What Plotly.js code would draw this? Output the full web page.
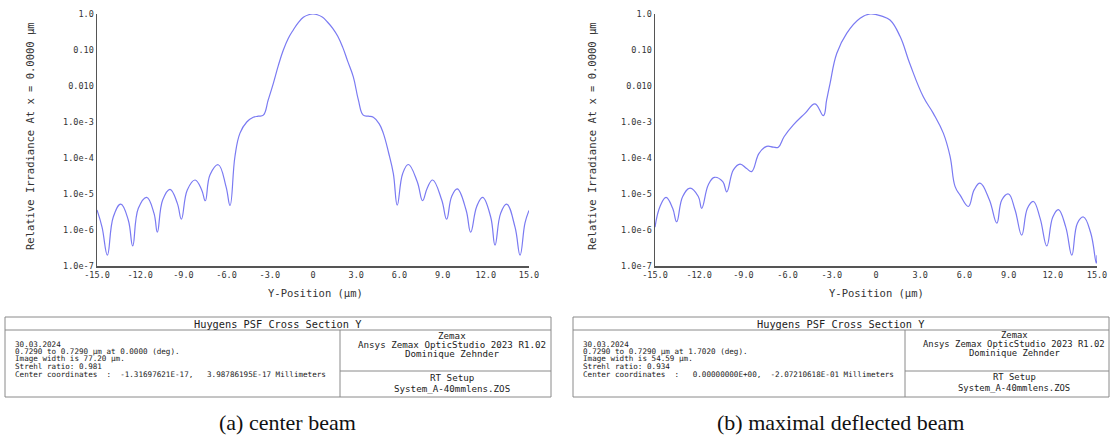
<!DOCTYPE html>
<html>
<head>
<meta charset="utf-8">
<script src="https://cdn.plot.ly/plotly-3.0.1.min.js"></script>
<style>html,body{margin:0;padding:0;background:#fff;}#chart{width:1110px;height:445px;}</style>
</head>
<body>
<div id="chart"></div>
<script>
// ---- Data ----
const yPosCenter = [-15, -14.65, -14.28, -13.87, -13.35, -12.83, -12.52, -12.13, -11.55, -11.04, -10.81, -10.44, -9.93, -9.42, -9.14, -8.73, -8.19, -7.73, -7.48, -7.15, -6.58, -6.04, -5.76, -5.42, -5.07, -4.6, -4.15, -3.8, -3.45, -3.11, -2.76, -2.4, -2.06, -1.72, -1.37, -1.02, -0.67, -0.3, 0, 0.3, 0.67, 1.0, 1.37, 1.72, 2.06, 2.4, 2.8, 3.15, 3.49, 3.85, 4.19, 4.6, 4.88, 5.25, 5.58, 5.85, 6.23, 6.62, 7.24, 7.61, 7.93, 8.31, 8.94, 9.28, 9.63, 10.02, 10.63, 10.95, 11.37, 11.78, 12.34, 12.64, 13.03, 13.45, 14.03, 14.38, 14.72, 15];
const irrCenter = [3.6e-6, 1.2e-6, 2.0e-7, 2.3e-6, 5.2e-6, 1.9e-6, 3.6e-7, 4.0e-6, 8.1e-6, 2.9e-6, 8.7e-7, 6.8e-6, 1.35e-5, 5.5e-6, 2.0e-6, 1.3e-5, 2.45e-5, 1.3e-5, 6.5e-6, 3.4e-5, 6.5e-5, 1.6e-5, 4.8e-6, 1.1e-4, 4.9e-4, 1.0e-3, 1.35e-3, 1.45e-3, 1.55e-3, 4.1e-3, 1.17e-2, 3.8e-2, 0.10, 0.21, 0.36, 0.575, 0.81, 0.955, 1.0, 0.955, 0.81, 0.60, 0.40, 0.24, 0.12, 0.05, 1.8e-2, 4.1e-3, 1.55e-3, 1.45e-3, 1.35e-3, 8.9e-4, 4.9e-4, 1.4e-4, 3.7e-5, 4.9e-6, 3.7e-5, 6.6e-5, 2.2e-5, 6.5e-6, 1.45e-5, 2.45e-5, 6.8e-6, 2.0e-6, 8.5e-6, 1.38e-5, 3.6e-6, 8.7e-7, 4.5e-6, 8.1e-6, 2.3e-6, 3.8e-7, 2.9e-6, 5.2e-6, 1.2e-6, 2.0e-7, 1.55e-6, 3.5e-6];

const yPosDeflected = [-15, -14.66, -14.25, -13.8, -13.53, -13.12, -12.62, -12.06, -11.83, -11.38, -10.97, -10.4, -10.13, -9.68, -9.23, -8.78, -8.44, -7.94, -7.42, -6.97, -6.63, -6.24, -5.61, -4.82, -4.14, -3.57, -3.35, -3.12, -2.66, -1.99, -1.08, -0.4, 0.39, 0.95, 1.63, 2.31, 3.21, 3.89, 4.57, 5.03, 5.37, 5.71, 6.27, 6.66, 7.06, 7.7, 8.2, 8.54, 8.99, 9.44, 9.89, 10.28, 10.68, 11.14, 11.59, 12.0, 12.38, 12.88, 13.29, 13.67, 14.08, 14.58, 14.95, 15];
const irrDeflected = [1.2e-6, 4.5e-6, 8.1e-6, 4.0e-6, 1.7e-6, 8.5e-6, 1.45e-5, 8.5e-6, 4.0e-6, 1.8e-5, 2.9e-5, 2.2e-5, 1.15e-5, 4.7e-5, 6.8e-5, 5.1e-5, 4.2e-5, 1.35e-4, 2.1e-4, 2.0e-4, 2.0e-4, 3.9e-4, 8.3e-4, 1.74e-3, 3.2e-3, 1.5e-3, 4.1e-3, 1.17e-2, 8.1e-2, 0.29, 0.76, 1.0, 0.87, 0.68, 0.24, 0.04, 5.0e-3, 1.74e-3, 4.9e-4, 1.1e-4, 1.6e-5, 9.3e-6, 4.5e-6, 1.3e-5, 2.0e-5, 6.8e-6, 1.55e-6, 6.8e-6, 1.0e-5, 3.6e-6, 7.2e-7, 4.0e-6, 6.2e-6, 2.1e-6, 3.6e-7, 2.3e-6, 3.7e-6, 1.2e-6, 2.0e-7, 1.55e-6, 2.3e-6, 8.1e-7, 1.2e-7, 2.0e-7];

const xTickVals = [-15, -12, -9, -6, -3, 0, 3, 6, 9, 12, 15];
const xTickText = ['-15.0', '-12.0', '-9.0', '-6.0', '-3.0', '0', '3.0', '6.0', '9.0', '12.0', '15.0'];
const yTickVals = [1e-7, 1e-6, 1e-5, 1e-4, 1e-3, 0.01, 0.1, 1];
const yTickText = ['1.0e-7', '1.0e-6', '1.0e-5', '1.0e-4', '1.0e-3', '0.010', '0.10', '1.0'];

const xTitle = 'Y-Position (µm)';
const yTitle = 'Relative Irradiance At x = 0.0000 µm';
const boxTitle = 'Huygens PSF Cross Section Y';
const infoLinesA = ['30.03.2024', '0.7290 to 0.7290 µm at 0.0000 (deg).', 'Image width is 77.20 µm.', 'Strehl ratio: 0.981', 'Center coordinates  :  -1.31697621E-17,   3.98786195E-17 Millimeters'];
const infoLinesB = ['30.03.2024', '0.7290 to 0.7290 µm at 1.7020 (deg).', 'Image width is 54.59 µm.', 'Strehl ratio: 0.934', 'Center coordinates  :   0.00000000E+00,  -2.07210618E-01 Millimeters'];
const companyLines = ['Zemax', 'Ansys Zemax OpticStudio 2023 R1.02', 'Dominique Zehnder'];
const setupLines = ['RT Setup', 'System_A-40mmlens.ZOS'];
const captions = ['(a) center beam', '(b) maximal deflected beam'];

// ---- Layout helpers (pixel -> paper) ----
const W = 1110, H = 445;
const px = v => v / W;
const py = v => 1 - v / H;

const lineStyle = {color: '#7a7af2', width: 1.2, shape: 'spline', smoothing: 1.2};
const traces = [
  {x: yPosCenter, y: irrCenter, type: 'scatter', mode: 'lines', line: lineStyle, xaxis: 'x', yaxis: 'y', hoverinfo: 'x+y', name: captions[0]},
  {x: yPosDeflected, y: irrDeflected, type: 'scatter', mode: 'lines', line: lineStyle, xaxis: 'x2', yaxis: 'y2', hoverinfo: 'x+y', name: captions[1]}
];

const axFont = {family: 'DejaVu Sans Mono, monospace', size: 8.5, color: '#333'};
const titleFont = {family: 'DejaVu Sans Mono, monospace', size: 10.5, color: '#333'};
function xAx(domain, anchor) {
  return {domain: domain, anchor: anchor, range: [-15, 15], tickvals: xTickVals, ticktext: xTickText,
    showline: true, linecolor: '#555', linewidth: 1.5, showgrid: false, zeroline: false, ticks: '',
    tickfont: axFont, title: {text: ''}, automargin: false, fixedrange: true};
}
function yAx(domain, anchor) {
  return {domain: domain, anchor: anchor, type: 'log', range: [-7, 0], tickvals: yTickVals, ticktext: yTickText,
    showline: true, linecolor: '#555', linewidth: 1.5, showgrid: false, zeroline: false, ticks: '',
    tickfont: axFont, title: {text: ''}, automargin: false, fixedrange: true};
}
const yDom = [py(266), py(14)];

const shapes = [];
const annotations = [];

// axis titles placed as annotations for exact positioning
function axisTitles(xCenter, yTitleX) {
  annotations.push({xref: 'paper', yref: 'paper', x: px(xCenter), y: py(293), text: xTitle, showarrow: false, xanchor: 'center', yanchor: 'middle', font: titleFont});
  annotations.push({xref: 'paper', yref: 'paper', x: px(yTitleX), y: py(136), text: yTitle, showarrow: false, xanchor: 'center', yanchor: 'middle', textangle: -90, font: titleFont});
}
axisTitles(315, 30);
axisTitles(876, 592);

function box(x0, x1, xDiv, xRight, title, infoLines, xCompanyCenter, compSize) {
  const yTop = 317, yTitleDiv = 330, yMid = 371, yBot = 397;
  const ln = {color: '#8a8a8a', width: 1};
  shapes.push({type: 'rect', xref: 'paper', yref: 'paper', x0: px(x0), x1: px(x1), y0: py(yBot), y1: py(yTop), line: ln});
  shapes.push({type: 'line', xref: 'paper', yref: 'paper', x0: px(x0), x1: px(x1), y0: py(yTitleDiv), y1: py(yTitleDiv), line: ln});
  shapes.push({type: 'line', xref: 'paper', yref: 'paper', x0: px(xDiv), x1: px(xDiv), y0: py(yTitleDiv), y1: py(yBot), line: ln});
  shapes.push({type: 'line', xref: 'paper', yref: 'paper', x0: px(xDiv), x1: px(xRight), y0: py(yMid), y1: py(yMid), line: ln});
  const tf = {family: 'DejaVu Sans Mono, monospace', size: 10.3, color: '#222'};
  const bf = {family: 'DejaVu Sans Mono, monospace', size: 7.6, color: '#222'};
  const cf = {family: 'DejaVu Sans Mono, monospace', size: compSize, color: '#222'};
  annotations.push({xref: 'paper', yref: 'paper', x: px((x0 + x1) / 2), y: py(323.5), text: title, showarrow: false, xanchor: 'center', yanchor: 'middle', font: tf});
  const infoY = [344, 351, 358.3, 366.7, 374];
  infoLines.forEach((t, i) => annotations.push({xref: 'paper', yref: 'paper', x: px(x0 + 8), y: py(infoY[i]), text: t.replace(/ /g, '&nbsp;'), showarrow: false, xanchor: 'left', yanchor: 'middle', font: bf}));
  const compY = [335, 344, 353];
  companyLines.forEach((t, i) => annotations.push({xref: 'paper', yref: 'paper', x: px(xCompanyCenter), y: py(compY[i]), text: t, showarrow: false, xanchor: 'center', yanchor: 'middle', font: cf}));
  const setY = [377, 388];
  setupLines.forEach((t, i) => annotations.push({xref: 'paper', yref: 'paper', x: px(xCompanyCenter), y: py(setY[i]), text: t, showarrow: false, xanchor: 'center', yanchor: 'middle', font: cf}));
}
box(5, 551, 340, 551, boxTitle, infoLinesA, 452, 9.2);
box(573, 1109, 905, 1109, boxTitle, infoLinesB, 1014, 8.9);

const capFont = {family: 'Liberation Serif, Times New Roman, serif', size: 22, color: '#111'};
annotations.push({xref: 'paper', yref: 'paper', x: px(287), y: py(422), text: captions[0], showarrow: false, xanchor: 'center', yanchor: 'middle', font: capFont});
annotations.push({xref: 'paper', yref: 'paper', x: px(840), y: py(422), text: captions[1], showarrow: false, xanchor: 'center', yanchor: 'middle', font: capFont});

const layout = {
  width: W, height: H,
  margin: {l: 0, r: 0, t: 0, b: 0},
  paper_bgcolor: '#ffffff', plot_bgcolor: '#ffffff',
  showlegend: false,
  xaxis: xAx([px(97), px(529)], 'y'),
  yaxis: yAx(yDom, 'x'),
  xaxis2: xAx([px(655), px(1097)], 'y2'),
  yaxis2: yAx(yDom, 'x2'),
  shapes: shapes,
  annotations: annotations
};

Plotly.newPlot('chart', traces, layout, {staticPlot: true, displayModeBar: false});
</script>
</body>
</html>
